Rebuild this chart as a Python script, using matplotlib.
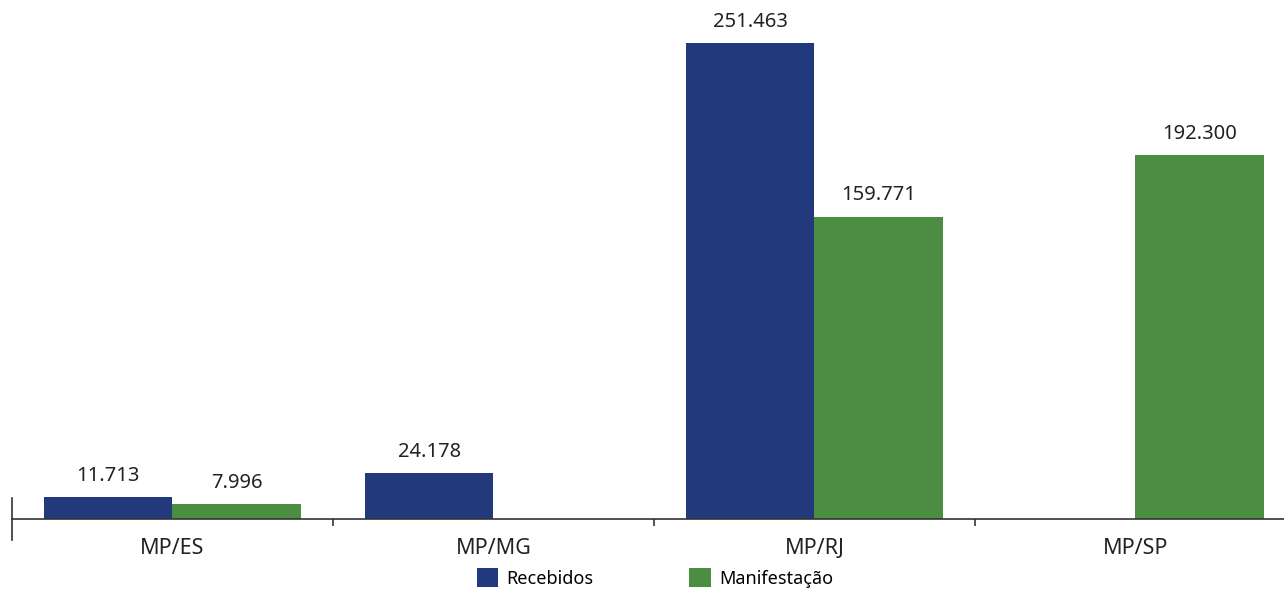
import matplotlib
matplotlib.use('Agg')
import matplotlib.pyplot as plt
import numpy as np

# data
categories = ['MP/ES', 'MP/MG', 'MP/RJ', 'MP/SP']
recebidos = [11713, 24178, 251463, None]
manifestacao = [7996, None, 159771, 192300]
series_names = ['Recebidos', 'Manifestação']

BLUE = '#22397b'
GREEN = '#4b8e41'


def fmt(v):
    # brazilian thousands separator
    return f'{v:,}'.replace(',', '.')


plt.rcParams['font.family'] = ['Noto Sans', 'DejaVu Sans']

W, H = 1284, 590
fig = plt.figure(figsize=(W / 100, H / 100), dpi=100)
# axes runs from x=12px to 1296px (last slot is cut by the figure edge)
ax = fig.add_axes([12 / W, 71 / H, 1284 / W, 519 / H])

x = np.arange(len(categories))
width = 0.4

for vals, off, color, name in [(recebidos, -width / 2, BLUE, series_names[0]),
                               (manifestacao, width / 2, GREEN, series_names[1])]:
    xs = [xi + off for xi, v in zip(x, vals) if v is not None]
    ys = [v for v in vals if v is not None]
    bars = ax.bar(xs, ys, width=width, color=color, label=name, linewidth=0)
    for b, v in zip(bars, ys):
        ax.annotate(fmt(v), (b.get_x() + b.get_width() / 2, v),
                    xytext=(0, 8), textcoords='offset points',
                    ha='center', va='bottom', fontsize=14.5, color='#222222')

ax.set_xlim(-0.5, 3.5)
ax.set_ylim(0, 274200)

for s in ['top', 'right', 'left']:
    ax.spines[s].set_visible(False)
ax.spines['bottom'].set_color('#333333')
ax.spines['bottom'].set_linewidth(1.2)

ax.set_yticks([])
ax.set_xticks(x)
ax.set_xticklabels(categories, fontsize=15.5, color='#222222')
ax.tick_params(axis='x', which='major', length=0, pad=14)
# category separators as minor ticks
ax.set_xticks([0.5, 1.5, 2.5], minor=True)
ax.tick_params(axis='x', which='minor', length=5, width=1.2, color='#333333')

# short vertical mark at the left end of the axis
ax.plot([-0.5, -0.5], [-0.04, 0.04], transform=ax.get_xaxis_transform(),
        color='#333333', lw=1.2, clip_on=False)

fig.legend(loc='center', bbox_to_anchor=(655 / W, 12 / H), ncol=2, frameon=False,
           fontsize=13, handlelength=1.2, handleheight=1.2, handletextpad=0.45,
           columnspacing=5.3)

fig.savefig('out.png', dpi=100)
